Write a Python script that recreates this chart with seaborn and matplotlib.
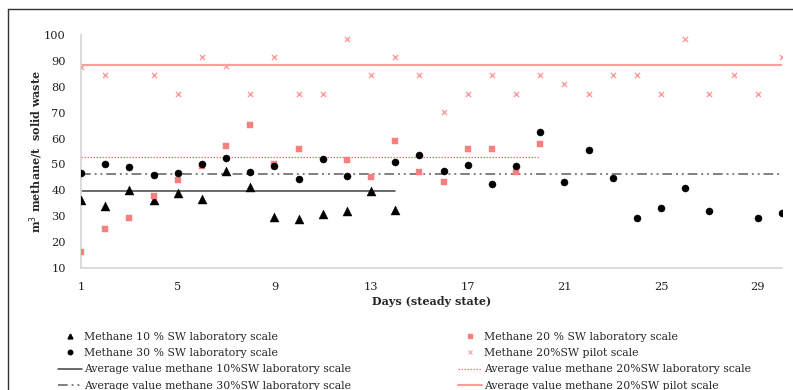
import numpy as np
import pandas as pd
import matplotlib
matplotlib.use("Agg")
import matplotlib.pyplot as plt
from matplotlib.lines import Line2D
import seaborn as sns

nan = np.nan
days = list(range(1, 31))
methane_10_lab = [36.3, 34.1, 40.1, 36.1, 39.1, 36.8, 47.6, 41.2, 29.8, 28.9,
                  30.9, 31.9, 39.9, 32.5] + [nan] * 16
methane_20_lab = [16.1, 25.1, 29.4, 37.8, 43.9, 49.5, 57.1, 65.1, 50.2, 55.8,
                  nan, 51.6, 45.3, 59.2, 47.1, 43.4, 55.8, 55.8, 47.1, 57.8] + [nan] * 10
methane_30_lab = [46.8, 50.2, 49.0, 45.9, 46.7, 50.2, 52.6, 47.1, 49.5, 44.5,
                  52.0, 45.5, nan, 50.9, 53.8, 47.6, 49.7, 42.5, 49.4, 62.5,
                  43.2, 55.7, 44.6, 29.4, 33.3, 40.8, 32.2, nan, 29.3, 31.1]
methane_20_pilot = [87.8, 84.6, nan, 84.6, 77.3, 91.5, 88.0, 77.3, 91.5, 77.3,
                    77.3, 98.6, 84.6, 91.5, 84.6, 70.4, 77.3, 84.6, 77.3, 84.6,
                    81.0, 77.3, 84.6, 84.6, 77.3, 98.6, 77.3, 84.6, 77.3, 91.5]

avg_10_lab = 39.9
avg_20_lab = 52.9
avg_30_lab = 46.3
avg_20_pilot = 88.3
avg_10_span = [1, 14]
avg_20_span = [1, 20]
avg_30_span = [1, 30]
avg_pilot_span = [1, 30]

x_ticks = [1, 5, 9, 13, 17, 21, 25, 29]
y_ticks = [10, 20, 30, 40, 50, 60, 70, 80, 90, 100]

labels = ["Methane 10 % SW laboratory scale",
          "Methane 20 % SW laboratory scale",
          "Methane 30 % SW laboratory scale",
          "Methane 20%SW pilot scale",
          "Average value methane 10%SW laboratory scale",
          "Average value methane 20%SW laboratory scale",
          "Average value methane 30%SW laboratory scale",
          "Average value methane 20%SW pilot scale"]

sns.set_theme(style="white")
plt.rcParams['font.family'] = ['DejaVu Serif']

df = pd.DataFrame({"day": days, "m10": methane_10_lab, "m20": methane_20_lab,
                   "m30": methane_30_lab, "pilot": methane_20_pilot})

fig = plt.figure(figsize=(7.93, 3.90), dpi=100)
ax = fig.add_axes([81 / 793, 1 - 268 / 390, (782 - 81) / 793, (268 - 35) / 390])

pink = "#F77F7F"
pink_light = "#FF9D9D"
pink_dot = "#FF6F6F"
grey_dd = "#808080"

# average lines
sns.lineplot(x=avg_pilot_span, y=[avg_20_pilot] * 2, ax=ax, color=pink_light, lw=1.5, zorder=1)
sns.lineplot(x=avg_20_span, y=[avg_20_lab] * 2, ax=ax, color=pink_dot, lw=0.9,
             linestyle=(0, (1.2, 1.2)), zorder=1)
sns.lineplot(x=avg_30_span, y=[avg_30_lab] * 2, ax=ax, color=grey_dd, lw=1.4,
             linestyle=(0, (5, 2, 1, 2, 1, 2)), zorder=1)
sns.lineplot(x=avg_10_span, y=[avg_10_lab] * 2, ax=ax, color="#404040", lw=1.1, zorder=1)

# points
sns.scatterplot(data=df, x="day", y="m10", ax=ax, marker="^", color="black", s=42,
                edgecolor="black", linewidth=0.3, zorder=3)
sns.scatterplot(data=df, x="day", y="m20", ax=ax, marker="s", color=pink, s=24,
                edgecolor=pink, linewidth=0.3, zorder=3)
sns.scatterplot(data=df, x="day", y="m30", ax=ax, marker="o", color="black", s=26,
                edgecolor="black", linewidth=0.3, zorder=4)
sns.scatterplot(data=df, x="day", y="pilot", ax=ax, marker="x", color=pink_light, s=14,
                linewidth=1.0, zorder=4)

ax.set_xlim(1, 30)
ax.set_ylim(10, 100)
ax.set_xticks(x_ticks)
ax.set_yticks(y_ticks)
ax.tick_params(axis="both", length=0, labelsize=8.2, colors="#222222")
ax.tick_params(axis="x", pad=10)
ax.tick_params(axis="y", pad=11)
for s in ["top", "right"]:
    ax.spines[s].set_visible(False)
for s in ["left", "bottom"]:
    ax.spines[s].set_color("#D4D4D4")
    ax.spines[s].set_linewidth(1.2)
ax.set_xlabel("Days (steady state)", fontsize=8, fontweight="bold", labelpad=3)
ax.set_ylabel("m$^3$ methane/t  solid waste", fontsize=8, fontweight="bold", labelpad=-1)

h_m10 = Line2D([], [], marker="^", color="black", ls="", markersize=3.5)
h_m20 = Line2D([], [], marker="s", color=pink, ls="", markersize=3.2)
h_m30 = Line2D([], [], marker="o", color="black", ls="", markersize=3.2)
h_pil = Line2D([], [], marker="x", color=pink_light, ls="", markersize=3, mew=0.8)
h_a10 = Line2D([], [], color="#404040", lw=1.1)
h_a20 = Line2D([], [], color=pink_dot, lw=0.9, linestyle=(0, (1.2, 1.2)))
h_a30 = Line2D([], [], color=grey_dd, lw=1.4, linestyle=(0, (5, 2, 1, 2, 1, 2)))
h_ap = Line2D([], [], color=pink_light, lw=1.5)

handles = [h_m10, h_m30, h_a10, h_a30, h_m20, h_pil, h_a20, h_ap]
leg_labels = [labels[0], labels[2], labels[4], labels[6],
              labels[1], labels[3], labels[5], labels[7]]
fig.legend(handles, leg_labels, ncol=2, frameon=False, fontsize=7.8,
           loc="upper left", bbox_to_anchor=(58 / 793, 1 - 332 / 390),
           handlelength=2.2, handletextpad=0.2, columnspacing=9.85,
           labelspacing=0.57, borderaxespad=0, borderpad=0)

# figure border (cropped frame)
fig.add_artist(Line2D([8 / 793, 8 / 793], [0, 1 - 9 / 390], transform=fig.transFigure,
                      color="#333333", lw=1.0))
fig.add_artist(Line2D([8 / 793, 1], [1 - 9 / 390, 1 - 9 / 390], transform=fig.transFigure,
                      color="#333333", lw=1.0))

fig.savefig("out.png", dpi=100)
